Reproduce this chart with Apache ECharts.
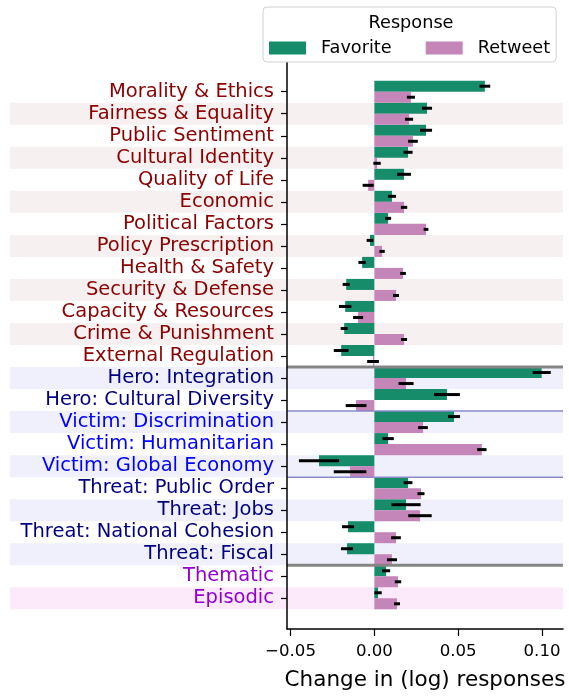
<!DOCTYPE html>
<html>
<head>
<meta charset="utf-8">
<script src="https://cdn.jsdelivr.net/npm/echarts@6/dist/echarts.min.js"></script>
<style>
  html, body { margin: 0; padding: 0; background: #fff; }
  #main { width: 569px; height: 696px; }
</style>
</head>
<body>
<div id="main"></div>
<script>
// frames, top to bottom
const categories = [
  'Morality & Ethics', 'Fairness & Equality', 'Public Sentiment', 'Cultural Identity',
  'Quality of Life', 'Economic', 'Political Factors', 'Policy Prescription',
  'Health & Safety', 'Security & Defense', 'Capacity & Resources', 'Crime & Punishment',
  'External Regulation', 'Hero: Integration', 'Hero: Cultural Diversity',
  'Victim: Discrimination', 'Victim: Humanitarian', 'Victim: Global Economy',
  'Threat: Public Order', 'Threat: Jobs', 'Threat: National Cohesion', 'Threat: Fiscal',
  'Thematic', 'Episodic'
]
const categoryGroup = [
  'issue', 'issue', 'issue', 'issue', 'issue', 'issue', 'issue', 'issue', 'issue', 'issue', 'issue', 'issue', 'issue',
  'hero', 'hero', 'victim', 'victim', 'victim', 'threat', 'threat', 'threat', 'threat',
  'frame', 'frame'
]
const favorite = [0.0659, 0.0314, 0.0308, 0.0201, 0.0177, 0.0105, 0.0082, -0.0026, -0.0073, -0.0168, -0.0174, -0.0180,
  -0.0198, 0.0998, 0.0433, 0.0475, 0.0082, -0.0330, 0.0201, 0.0189, -0.0157, -0.0163, 0.0070, 0.0022]
const favoriteErr = [0.0032, 0.0030, 0.0036, 0.0027, 0.0041, 0.0024, 0.0018, 0.0020, 0.0022, 0.0021, 0.0037, 0.0021,
  0.0044, 0.0054, 0.0077, 0.0036, 0.0034, 0.0120, 0.0026, 0.0087, 0.0036, 0.0036, 0.0024, 0.0022]
const retweet = [0.0218, 0.0207, 0.0230, 0.0016, -0.0037, 0.0177, 0.0308, 0.0046, 0.0171, 0.0129, -0.0097, 0.0177,
  -0.0008, 0.0189, -0.0109, 0.0290, 0.0641, -0.0145, 0.0278, 0.0272, 0.0129, 0.0105, 0.0141, 0.0135]
const retweetErr = [0.0024, 0.0024, 0.0029, 0.0022, 0.0033, 0.0019, 0.0014, 0.0016, 0.0017, 0.0018, 0.0030, 0.0018,
  0.0035, 0.0045, 0.0062, 0.0029, 0.0028, 0.0097, 0.0021, 0.0070, 0.0029, 0.0030, 0.0019, 0.0018]
const shadedRows = [1, 3, 5, 7, 9, 11, 13, 15, 17, 19, 21, 23]
const thickBreaks = [12, 21] // line below these rows
const thinBreaks = [14, 17]
const xTicks = [-0.05, 0, 0.05, 0.10]

const labelColors = { issue: '#8b0000', hero: '#000080', victim: '#0000ff', threat: '#000080', frame: '#9400d3' }
const bandColors = { issue: '#f7f0f0', hero: '#f0f0fd', victim: '#f0f0fd', threat: '#f0f0fd', frame: '#fce9f9' }
const FONT = 'DejaVu Sans'
const X_MIN = -0.0521
const X_MAX = 0.1125

const chart = echarts.init(document.getElementById('main'))

const errData = []
categories.forEach((c, i) => {
  errData.push([favorite[i], c, favoriteErr[i], 0])
  errData.push([retweet[i], c, retweetErr[i], 1])
})

chart.setOption({
  animation: false,
  grid: [
    { left: 287, right: 6, top: 80.7, bottom: 86.7 },
    { left: 287, right: 6, top: 36, bottom: 61 }
  ],
  xAxis: [
    { gridIndex: 0, type: 'value', min: X_MIN, max: X_MAX, show: false },
    {
      gridIndex: 1,
      type: 'value',
      min: X_MIN,
      max: X_MAX,
      z: 5,
      name: 'Change in (log) responses',
      nameLocation: 'middle',
      nameGap: 40,
      nameTextStyle: { fontFamily: FONT, fontSize: 21.5, color: '#000' },
      axisLine: { show: true, onZero: false, lineStyle: { color: '#000', width: 1.5 } },
      axisTick: { show: true, customValues: xTicks, length: 7, lineStyle: { color: '#000', width: 1.2 } },
      axisLabel: {
        customValues: xTicks,
        margin: 14,
        fontFamily: FONT,
        fontSize: 16.6,
        color: '#000',
        formatter: v => (v < 0 ? '\u2212' : '') + Math.abs(v).toFixed(2)
      },
      splitLine: { show: false }
    }
  ],
  yAxis: [
    {
      gridIndex: 0,
      type: 'category',
      data: categories,
      inverse: true,
      z: 5,
      axisLine: { show: false, onZero: false },
      axisTick: { show: true, interval: 0, alignWithLabel: true, length: 6, lineStyle: { color: '#000', width: 1.2 } },
      axisLabel: {
        interval: 0,
        margin: 13,
        fontFamily: FONT,
        fontSize: 19.5,
        color: (value) => labelColors[categoryGroup[categories.indexOf(value)]]
      },
      splitLine: { show: false }
    },
    {
      gridIndex: 1,
      type: 'value',
      min: 0,
      max: 1,
      z: 5,
      axisLine: { show: true, onZero: false, lineStyle: { color: '#000', width: 1.5 } },
      axisTick: { show: false },
      axisLabel: { show: false },
      splitLine: { show: false }
    }
  ],
  legend: {
    data: ['Favorite', 'Retweet'],
    left: 263,
    top: 7,
    z: 10,
    icon: 'rect',
    itemWidth: 37,
    itemHeight: 13,
    itemGap: 34,
    padding: [32, 6, 5, 6],
    backgroundColor: '#fff',
    borderColor: '#d0d0d0',
    borderWidth: 1,
    borderRadius: 4,
    textStyle: { fontFamily: FONT, fontSize: 17.7, color: '#000', padding: [0, 0, 0, 10] }
  },
  graphic: [
    {
      type: 'text',
      x: 411,
      y: 23,
      z: 100,
      style: { text: 'Response', fontFamily: FONT, fontSize: 17.7, fill: '#000', textAlign: 'center', textVerticalAlign: 'middle' }
    }
  ],
  series: [
    {
      name: 'bands',
      type: 'custom',
      xAxisIndex: 0,
      yAxisIndex: 0,
      z: 1,
      silent: true,
      encode: { x: 0, y: 1 },
      data: shadedRows.map(i => [0, categories[i], i]),
      renderItem: (params, api) => {
        const cs = params.coordSys
        const yc = api.coord([0, api.value(1)])[1]
        const h = api.size([0, 1])[1]
        const grp = categoryGroup[api.value(2)]
        return {
          type: 'rect',
          shape: { x: 10, y: yc - h / 2, width: cs.x + cs.width - 10, height: h },
          style: { fill: bandColors[grp] }
        }
      }
    },
    {
      name: 'Favorite',
      type: 'bar',
      xAxisIndex: 0,
      yAxisIndex: 0,
      z: 2,
      data: favorite,
      barGap: '0%',
      barCategoryGap: '0%',
      itemStyle: { color: '#178c6b' }
    },
    {
      name: 'Retweet',
      type: 'bar',
      xAxisIndex: 0,
      yAxisIndex: 0,
      z: 2,
      data: retweet,
      barGap: '0%',
      barCategoryGap: '0%',
      itemStyle: { color: '#c485b9' }
    },
    {
      name: 'errors',
      type: 'custom',
      xAxisIndex: 0,
      yAxisIndex: 0,
      z: 3,
      silent: true,
      encode: { x: 0, y: 1 },
      data: errData,
      renderItem: (params, api) => {
        const v = api.value(0)
        const e = api.value(2)
        const h = api.size([0, 1])[1]
        const yc = api.coord([0, api.value(1)])[1] + (api.value(3) === 0 ? -h / 4 : h / 4)
        const p1 = api.coord([v - e, api.value(1)])
        const p2 = api.coord([v + e, api.value(1)])
        return {
          type: 'line',
          shape: { x1: p1[0], y1: yc, x2: p2[0], y2: yc },
          style: { stroke: '#000', lineWidth: 3 }
        }
      }
    },
    {
      name: 'breaks',
      type: 'custom',
      xAxisIndex: 0,
      yAxisIndex: 0,
      z: 4,
      silent: true,
      encode: { x: 0, y: 1 },
      data: thickBreaks.map(i => [0, categories[i], 1]).concat(thinBreaks.map(i => [0, categories[i], 0])),
      renderItem: (params, api) => {
        const cs = params.coordSys
        const h = api.size([0, 1])[1]
        const y = api.coord([0, api.value(1)])[1] + h / 2
        const thick = api.value(2) === 1
        return {
          type: 'line',
          shape: { x1: cs.x, y1: y, x2: cs.x + cs.width, y2: y },
          style: { stroke: thick ? '#858585' : '#8a8ac6', lineWidth: thick ? 3 : 1.5 }
        }
      }
    }
  ]
})
</script>
</body>
</html>
